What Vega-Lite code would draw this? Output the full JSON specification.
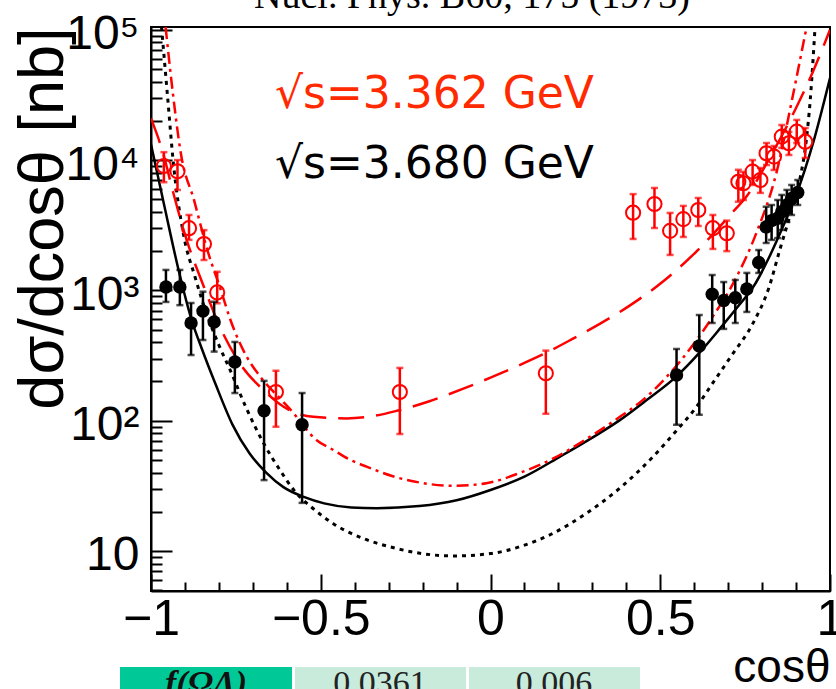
{
  "$schema": "https://vega.github.io/schema/vega-lite/v6.json",
  "width": 679,
  "height": 564,
  "autosize": {"type": "none"},
  "padding": {"left": 151, "top": 27, "right": 6, "bottom": 98},
  "background": "white",
  "config": {
    "view": {"stroke": "black", "strokeWidth": 2},
    "axis": {"domainColor": "black", "domainWidth": 2, "tickColor": "black", "tickWidth": 2, "grid": false, "labelColor": "black", "titleColor": "black"}
  },
  "datasets": {
    "curves": [
      {"c": "fit368", "x": -1.0, "y": 13183}, {"c": "fit368", "x": -0.96, "y": 4365}, {"c": "fit368", "x": -0.92, "y": 1479},
      {"c": "fit368", "x": -0.88, "y": 589}, {"c": "fit368", "x": -0.85, "y": 355}, {"c": "fit368", "x": -0.81, "y": 191},
      {"c": "fit368", "x": -0.76, "y": 93.3}, {"c": "fit368", "x": -0.71, "y": 56.2}, {"c": "fit368", "x": -0.66, "y": 39.8},
      {"c": "fit368", "x": -0.61, "y": 30.9}, {"c": "fit368", "x": -0.55, "y": 26.0}, {"c": "fit368", "x": -0.49, "y": 23.2},
      {"c": "fit368", "x": -0.41, "y": 21.6}, {"c": "fit368", "x": -0.335, "y": 21.3}, {"c": "fit368", "x": -0.21, "y": 22.1},
      {"c": "fit368", "x": -0.1, "y": 24.5}, {"c": "fit368", "x": 0.0, "y": 29.4}, {"c": "fit368", "x": 0.1, "y": 37.2},
      {"c": "fit368", "x": 0.205, "y": 53.0}, {"c": "fit368", "x": 0.3, "y": 74.1}, {"c": "fit368", "x": 0.381, "y": 101},
      {"c": "fit368", "x": 0.46, "y": 144}, {"c": "fit368", "x": 0.548, "y": 219}, {"c": "fit368", "x": 0.615, "y": 331},
      {"c": "fit368", "x": 0.68, "y": 525}, {"c": "fit368", "x": 0.73, "y": 759}, {"c": "fit368", "x": 0.775, "y": 1072},
      {"c": "fit368", "x": 0.82, "y": 1778}, {"c": "fit368", "x": 0.86, "y": 3020}, {"c": "fit368", "x": 0.9, "y": 5370},
      {"c": "fit368", "x": 0.95, "y": 13490}, {"c": "fit368", "x": 1.0, "y": 42660},

      {"c": "alt368", "x": -0.969, "y": 105000}, {"c": "alt368", "x": -0.95, "y": 28184}, {"c": "alt368", "x": -0.935, "y": 10000},
      {"c": "alt368", "x": -0.905, "y": 2754}, {"c": "alt368", "x": -0.87, "y": 1259}, {"c": "alt368", "x": -0.836, "y": 661},
      {"c": "alt368", "x": -0.8, "y": 380}, {"c": "alt368", "x": -0.767, "y": 245}, {"c": "alt368", "x": -0.72, "y": 126},
      {"c": "alt368", "x": -0.669, "y": 67.6}, {"c": "alt368", "x": -0.62, "y": 41.7}, {"c": "alt368", "x": -0.58, "y": 29.5},
      {"c": "alt368", "x": -0.52, "y": 20.9}, {"c": "alt368", "x": -0.463, "y": 16.2}, {"c": "alt368", "x": -0.365, "y": 12.2},
      {"c": "alt368", "x": -0.28, "y": 10.5}, {"c": "alt368", "x": -0.208, "y": 9.6}, {"c": "alt368", "x": -0.11, "y": 9.16},
      {"c": "alt368", "x": 0.0, "y": 9.55}, {"c": "alt368", "x": 0.087, "y": 10.8}, {"c": "alt368", "x": 0.18, "y": 13.5},
      {"c": "alt368", "x": 0.283, "y": 19.5}, {"c": "alt368", "x": 0.38, "y": 30.2}, {"c": "alt368", "x": 0.479, "y": 53.0},
      {"c": "alt368", "x": 0.55, "y": 85.1}, {"c": "alt368", "x": 0.607, "y": 128}, {"c": "alt368", "x": 0.655, "y": 195},
      {"c": "alt368", "x": 0.71, "y": 316}, {"c": "alt368", "x": 0.773, "y": 558}, {"c": "alt368", "x": 0.82, "y": 1047},
      {"c": "alt368", "x": 0.852, "y": 2042}, {"c": "alt368", "x": 0.885, "y": 3981}, {"c": "alt368", "x": 0.911, "y": 7079},
      {"c": "alt368", "x": 0.93, "y": 14125}, {"c": "alt368", "x": 0.941, "y": 27290}, {"c": "alt368", "x": 0.956, "y": 105000},

      {"c": "alt336", "x": -0.957, "y": 105000}, {"c": "alt336", "x": -0.935, "y": 31623}, {"c": "alt336", "x": -0.912, "y": 11220},
      {"c": "alt336", "x": -0.873, "y": 4898}, {"c": "alt336", "x": -0.834, "y": 2042}, {"c": "alt336", "x": -0.794, "y": 1000},
      {"c": "alt336", "x": -0.767, "y": 603}, {"c": "alt336", "x": -0.72, "y": 316}, {"c": "alt336", "x": -0.679, "y": 219},
      {"c": "alt336", "x": -0.62, "y": 148}, {"c": "alt336", "x": -0.591, "y": 123}, {"c": "alt336", "x": -0.512, "y": 70.8},
      {"c": "alt336", "x": -0.463, "y": 59.6}, {"c": "alt336", "x": -0.414, "y": 50.1}, {"c": "alt336", "x": -0.365, "y": 44.4},
      {"c": "alt336", "x": -0.29, "y": 37.6}, {"c": "alt336", "x": -0.208, "y": 33.5}, {"c": "alt336", "x": -0.11, "y": 31.6},
      {"c": "alt336", "x": -0.012, "y": 33.1}, {"c": "alt336", "x": 0.087, "y": 39.8}, {"c": "alt336", "x": 0.185, "y": 51.3},
      {"c": "alt336", "x": 0.283, "y": 72.4}, {"c": "alt336", "x": 0.381, "y": 107}, {"c": "alt336", "x": 0.45, "y": 145},
      {"c": "alt336", "x": 0.557, "y": 282}, {"c": "alt336", "x": 0.655, "y": 631}, {"c": "alt336", "x": 0.714, "y": 1122},
      {"c": "alt336", "x": 0.783, "y": 2754}, {"c": "alt336", "x": 0.842, "y": 7943}, {"c": "alt336", "x": 0.891, "y": 31623},
      {"c": "alt336", "x": 0.931, "y": 105000},

      {"c": "fit336", "x": -1.0, "y": 20893}, {"c": "fit336", "x": -0.964, "y": 11220}, {"c": "fit336", "x": -0.934, "y": 5559},
      {"c": "fit336", "x": -0.895, "y": 2438}, {"c": "fit336", "x": -0.846, "y": 1096}, {"c": "fit336", "x": -0.797, "y": 525},
      {"c": "fit336", "x": -0.738, "y": 275}, {"c": "fit336", "x": -0.669, "y": 172}, {"c": "fit336", "x": -0.591, "y": 120},
      {"c": "fit336", "x": -0.522, "y": 107}, {"c": "fit336", "x": -0.424, "y": 104}, {"c": "fit336", "x": -0.35, "y": 108},
      {"c": "fit336", "x": -0.276, "y": 119}, {"c": "fit336", "x": -0.18, "y": 141}, {"c": "fit336", "x": -0.08, "y": 176},
      {"c": "fit336", "x": 0.0, "y": 214}, {"c": "fit336", "x": 0.08, "y": 263}, {"c": "fit336", "x": 0.163, "y": 331},
      {"c": "fit336", "x": 0.24, "y": 422}, {"c": "fit336", "x": 0.323, "y": 556}, {"c": "fit336", "x": 0.411, "y": 767},
      {"c": "fit336", "x": 0.509, "y": 1175}, {"c": "fit336", "x": 0.607, "y": 1995}, {"c": "fit336", "x": 0.655, "y": 2692},
      {"c": "fit336", "x": 0.715, "y": 4027}, {"c": "fit336", "x": 0.754, "y": 5248}, {"c": "fit336", "x": 0.823, "y": 10471},
      {"c": "fit336", "x": 0.9, "y": 25119}, {"c": "fit336", "x": 0.95, "y": 47863}, {"c": "fit336", "x": 1.0, "y": 100000}
    ],
    "points": [
      {"s": "3.362", "x": -0.962, "y": 9000, "lo": 6760, "hi": 11500},
      {"s": "3.362", "x": -0.922, "y": 8200, "lo": 5900, "hi": 10000},
      {"s": "3.362", "x": -0.888, "y": 3000, "lo": 2440, "hi": 3790},
      {"s": "3.362", "x": -0.844, "y": 2270, "lo": 1710, "hi": 2900},
      {"s": "3.362", "x": -0.805, "y": 964, "lo": 796, "hi": 1390},
      {"s": "3.362", "x": -0.632, "y": 166, "lo": 90, "hi": 242},
      {"s": "3.362", "x": -0.267, "y": 166, "lo": 79, "hi": 254},
      {"s": "3.362", "x": 0.163, "y": 231, "lo": 113, "hi": 345},
      {"s": "3.362", "x": 0.42, "y": 3946, "lo": 2480, "hi": 5480},
      {"s": "3.362", "x": 0.483, "y": 4600, "lo": 3010, "hi": 6110},
      {"s": "3.362", "x": 0.529, "y": 2860, "lo": 1870, "hi": 3930},
      {"s": "3.362", "x": 0.568, "y": 3520, "lo": 2570, "hi": 4450},
      {"s": "3.362", "x": 0.612, "y": 4140, "lo": 3120, "hi": 5120},
      {"s": "3.362", "x": 0.655, "y": 3000, "lo": 2080, "hi": 3790},
      {"s": "3.362", "x": 0.696, "y": 2740, "lo": 2000, "hi": 3430},
      {"s": "3.362", "x": 0.73, "y": 6820, "lo": 4790, "hi": 8420},
      {"s": "3.362", "x": 0.745, "y": 6640, "lo": 4940, "hi": 8110},
      {"s": "3.362", "x": 0.772, "y": 8150, "lo": 6440, "hi": 10000},
      {"s": "3.362", "x": 0.795, "y": 7030, "lo": 5600, "hi": 8690},
      {"s": "3.362", "x": 0.813, "y": 11270, "lo": 9160, "hi": 13520},
      {"s": "3.362", "x": 0.835, "y": 10620, "lo": 8390, "hi": 12820},
      {"s": "3.362", "x": 0.858, "y": 15130, "lo": 12390, "hi": 18580},
      {"s": "3.362", "x": 0.879, "y": 13460, "lo": 10940, "hi": 16440},
      {"s": "3.362", "x": 0.902, "y": 16520, "lo": 13520, "hi": 20320},
      {"s": "3.362", "x": 0.927, "y": 13840, "lo": 10370, "hi": 17620},
      {"s": "3.680", "x": -0.956, "y": 1060, "lo": 815, "hi": 1435},
      {"s": "3.680", "x": -0.915, "y": 1060, "lo": 770, "hi": 1435},
      {"s": "3.680", "x": -0.882, "y": 562, "lo": 319, "hi": 800},
      {"s": "3.680", "x": -0.847, "y": 693, "lo": 416, "hi": 977},
      {"s": "3.680", "x": -0.814, "y": 571, "lo": 339, "hi": 818},
      {"s": "3.680", "x": -0.753, "y": 282, "lo": 163, "hi": 402},
      {"s": "3.680", "x": -0.667, "y": 119, "lo": 35, "hi": 202},
      {"s": "3.680", "x": -0.555, "y": 93, "lo": 23.4, "hi": 163},
      {"s": "3.680", "x": 0.548, "y": 224, "lo": 93, "hi": 355},
      {"s": "3.680", "x": 0.615, "y": 374, "lo": 111, "hi": 647},
      {"s": "3.680", "x": 0.653, "y": 933, "lo": 562, "hi": 1312},
      {"s": "3.680", "x": 0.687, "y": 835, "lo": 506, "hi": 1159},
      {"s": "3.680", "x": 0.721, "y": 879, "lo": 562, "hi": 1202},
      {"s": "3.680", "x": 0.755, "y": 1025, "lo": 683, "hi": 1361},
      {"s": "3.680", "x": 0.79, "y": 1634, "lo": 1361, "hi": 2040},
      {"s": "3.680", "x": 0.812, "y": 3060, "lo": 2310, "hi": 4385},
      {"s": "3.680", "x": 0.828, "y": 3430, "lo": 2440, "hi": 4520},
      {"s": "3.680", "x": 0.846, "y": 3573, "lo": 2520, "hi": 4940},
      {"s": "3.680", "x": 0.858, "y": 4020, "lo": 2910, "hi": 5400},
      {"s": "3.680", "x": 0.873, "y": 4520, "lo": 3350, "hi": 5900},
      {"s": "3.680", "x": 0.887, "y": 5080, "lo": 3790, "hi": 6440},
      {"s": "3.680", "x": 0.905, "y": 5630, "lo": 4520, "hi": 7030}
    ],
    "notes": [
      {"s": "3.362", "x": -0.635, "y": 25100, "text": "√s=3.362 GeV"},
      {"s": "3.680", "x": -0.635, "y": 7300, "text": "√s=3.680 GeV"}
    ],
    "ref": [
      {"x": -0.0545, "y": 146900, "text": "Nucl. Phys. B60, 175 (1973)"}
    ],
    "cells": [
      {"kind": "head", "x1": -1.0913, "x2": -0.5847, "y1": 1.288, "y2": 0.5, "tx": -0.838, "ty": 0.8, "text": "f(ΩΛ)"},
      {"kind": "val", "x1": -0.5758, "x2": -0.0722, "y1": 1.288, "y2": 0.5, "tx": -0.3255, "ty": 0.8, "text": "0.0361"},
      {"kind": "val", "x1": -0.0633, "x2": 0.4404, "y1": 1.288, "y2": 0.5, "tx": 0.187, "ty": 0.8, "text": "0.006"}
    ]
  },
  "layer": [
    {
      "data": {"name": "curves"},
      "transform": [{"filter": "datum.c == 'fit368'"}],
      "mark": {"type": "line", "clip": true, "color": "black", "strokeWidth": 2.5, "interpolate": "monotone"},
      "encoding": {
        "x": {
          "field": "x", "type": "quantitative",
          "scale": {"domain": [-1, 1], "nice": false, "zero": false},
          "axis": {
            "orient": "bottom",
            "values": [-1, -0.5, 0, 0.5, 1],
            "labelExpr": "(datum.value < 0 ? '−' : '') + format(abs(datum.value), '')",
            "tickSize": -17,
            "labelFont": "Liberation Sans",
            "labelFontSize": 50,
            "labelPadding": 20,
            "labelFlush": false,
            "labelOverlap": false,
            "labelBound": false,
            "title": "cosθ",
            "titleFont": "Liberation Sans",
            "titleFontSize": 46,
            "titleFontWeight": "normal",
            "titleAnchor": "end",
            "titleAlign": "right",
            "titleBaseline": "alphabetic",
            "titleX": 679,
            "titleY": 90
          }
        },
        "y": {
          "field": "y", "type": "quantitative",
          "scale": {"type": "log", "domain": [4.93, 105000], "nice": false},
          "axis": {
            "orient": "left",
            "values": [10, 100, 1000, 10000, 100000],
            "labelExpr": "datum.value == 10 ? '10' : datum.value == 100 ? '10²' : datum.value == 1000 ? '10³' : datum.value == 10000 ? '10⁴' : '10⁵'",
            "tickSize": -21,
            "labelFont": "Liberation Sans",
            "labelFontSize": 48,
            "labelPadding": 33,
            "labelOffset": 5,
            "labelOverlap": false,
            "labelBound": false,
            "labelFlush": false,
            "title": "dσ/dcosθ [nb]",
            "titleFont": "Liberation Sans",
            "titleFontSize": 63,
            "titleFontWeight": "normal",
            "titleAngle": -90,
            "titleAnchor": "end",
            "titleAlign": "right",
            "titleBaseline": "alphabetic",
            "titleX": -89,
            "titleY": 0
          }
        }
      }
    },
    {
      "data": {"name": "curves"},
      "transform": [{"filter": "datum.c == 'alt368'"}],
      "mark": {"type": "line", "clip": true, "color": "black", "strokeWidth": 3, "strokeDash": [4, 5], "interpolate": "monotone"},
      "encoding": {
        "x": {
          "field": "x", "type": "quantitative",
          "axis": {
            "orient": "bottom",
            "values": [-0.9, -0.8, -0.7, -0.6, -0.4, -0.3, -0.2, -0.1, 0.1, 0.2, 0.3, 0.4, 0.6, 0.7, 0.8, 0.9],
            "labels": false, "domain": false, "tickSize": -9, "title": null
          }
        },
        "y": {
          "field": "y", "type": "quantitative",
          "axis": {
            "orient": "left",
            "values": [5, 6, 7, 8, 9, 20, 30, 40, 50, 60, 70, 80, 90, 200, 300, 400, 500, 600, 700, 800, 900, 2000, 3000, 4000, 5000, 6000, 7000, 8000, 9000, 20000, 30000, 40000, 50000, 60000, 70000, 80000, 90000],
            "labels": false, "domain": false, "tickSize": -11, "title": null
          }
        }
      }
    },
    {
      "data": {"name": "cells"},
      "mark": {"type": "rect", "clip": false},
      "encoding": {
        "x": {"field": "x1", "type": "quantitative", "axis": null},
        "x2": {"field": "x2"},
        "y": {"field": "y1", "type": "quantitative", "axis": null},
        "y2": {"field": "y2"},
        "color": {"field": "kind", "type": "nominal", "scale": {"domain": ["head", "val"], "range": ["#00c896", "#c8ebdc"]}, "legend": null}
      }
    },
    {
      "data": {"name": "cells"},
      "transform": [{"filter": "datum.kind == 'head'"}],
      "mark": {"type": "text", "clip": false, "font": "Liberation Serif", "fontSize": 34, "fontWeight": "bold", "fontStyle": "italic", "align": "center", "baseline": "alphabetic", "color": "#111111"},
      "encoding": {
        "x": {"field": "tx", "type": "quantitative", "axis": null},
        "y": {"field": "ty", "type": "quantitative", "axis": null},
        "text": {"field": "text"}
      }
    },
    {
      "data": {"name": "cells"},
      "transform": [{"filter": "datum.kind == 'val'"}],
      "mark": {"type": "text", "clip": false, "font": "Liberation Serif", "fontSize": 34, "align": "center", "baseline": "alphabetic", "color": "#222222"},
      "encoding": {
        "x": {"field": "tx", "type": "quantitative", "axis": null},
        "y": {"field": "ty", "type": "quantitative", "axis": null},
        "text": {"field": "text"}
      }
    },
    {
      "data": {"name": "curves"},
      "transform": [{"filter": "datum.c == 'alt336'"}],
      "mark": {"type": "line", "clip": true, "color": "#ff0000", "strokeWidth": 2.5, "strokeDash": [12, 5, 3, 5], "interpolate": "monotone"},
      "encoding": {
        "x": {"field": "x", "type": "quantitative", "axis": null},
        "y": {"field": "y", "type": "quantitative", "axis": null}
      }
    },
    {
      "data": {"name": "curves"},
      "transform": [{"filter": "datum.c == 'fit336'"}],
      "mark": {"type": "line", "clip": true, "color": "#ff0000", "strokeWidth": 2.5, "strokeDash": [26, 12], "interpolate": "monotone"},
      "encoding": {
        "x": {"field": "x", "type": "quantitative", "axis": null},
        "y": {"field": "y", "type": "quantitative", "axis": null}
      }
    },
    {
      "data": {"name": "points"},
      "transform": [{"filter": "datum.s == '3.362'"}],
      "mark": {"type": "rule", "color": "#ff0000", "strokeWidth": 2.5},
      "encoding": {
        "x": {"field": "x", "type": "quantitative", "axis": null},
        "y": {"field": "lo", "type": "quantitative", "axis": null},
        "y2": {"field": "hi"}
      }
    },
    {
      "data": {"name": "points"},
      "transform": [{"filter": "datum.s == '3.362'"}],
      "mark": {"type": "tick", "orient": "horizontal", "color": "#ff0000", "size": 7, "thickness": 2.5},
      "encoding": {
        "x": {"field": "x", "type": "quantitative", "axis": null},
        "y": {"field": "lo", "type": "quantitative", "axis": null}
      }
    },
    {
      "data": {"name": "points"},
      "transform": [{"filter": "datum.s == '3.362'"}],
      "mark": {"type": "tick", "orient": "horizontal", "color": "#ff0000", "size": 7, "thickness": 2.5},
      "encoding": {
        "x": {"field": "x", "type": "quantitative", "axis": null},
        "y": {"field": "hi", "type": "quantitative", "axis": null}
      }
    },
    {
      "data": {"name": "points"},
      "transform": [{"filter": "datum.s == '3.362'"}],
      "mark": {"type": "point", "shape": "circle", "filled": false, "stroke": "#ff0000", "strokeWidth": 2, "size": 200, "opacity": 1},
      "encoding": {
        "x": {"field": "x", "type": "quantitative", "axis": null},
        "y": {"field": "y", "type": "quantitative", "axis": null}
      }
    },
    {
      "data": {"name": "points"},
      "transform": [{"filter": "datum.s == '3.680'"}],
      "mark": {"type": "rule", "color": "black", "strokeWidth": 2.5},
      "encoding": {
        "x": {"field": "x", "type": "quantitative", "axis": null},
        "y": {"field": "lo", "type": "quantitative", "axis": null},
        "y2": {"field": "hi"}
      }
    },
    {
      "data": {"name": "points"},
      "transform": [{"filter": "datum.s == '3.680'"}],
      "mark": {"type": "tick", "orient": "horizontal", "color": "black", "size": 7, "thickness": 2.5},
      "encoding": {
        "x": {"field": "x", "type": "quantitative", "axis": null},
        "y": {"field": "lo", "type": "quantitative", "axis": null}
      }
    },
    {
      "data": {"name": "points"},
      "transform": [{"filter": "datum.s == '3.680'"}],
      "mark": {"type": "tick", "orient": "horizontal", "color": "black", "size": 7, "thickness": 2.5},
      "encoding": {
        "x": {"field": "x", "type": "quantitative", "axis": null},
        "y": {"field": "hi", "type": "quantitative", "axis": null}
      }
    },
    {
      "data": {"name": "points"},
      "transform": [{"filter": "datum.s == '3.680'"}],
      "mark": {"type": "circle", "color": "black", "size": 180, "opacity": 1},
      "encoding": {
        "x": {"field": "x", "type": "quantitative", "axis": null},
        "y": {"field": "y", "type": "quantitative", "axis": null}
      }
    },
    {
      "data": {"name": "notes"},
      "mark": {"type": "text", "clip": false, "font": "DejaVu Sans", "fontSize": 44, "align": "left", "baseline": "alphabetic"},
      "encoding": {
        "x": {"field": "x", "type": "quantitative", "axis": null},
        "y": {"field": "y", "type": "quantitative", "axis": null},
        "text": {"field": "text"},
        "color": {"field": "s", "type": "nominal", "scale": {"domain": ["3.362", "3.680"], "range": ["#ff2a00", "#000000"]}, "legend": null}
      }
    },
    {
      "data": {"name": "ref"},
      "mark": {"type": "text", "clip": false, "font": "Liberation Serif", "fontSize": 38, "align": "center", "baseline": "alphabetic", "color": "black"},
      "encoding": {
        "x": {"field": "x", "type": "quantitative", "axis": null},
        "y": {"field": "y", "type": "quantitative", "axis": null},
        "text": {"field": "text"}
      }
    }
  ],
  "resolve": {"scale": {"color": "independent"}, "axis": {"x": "independent", "y": "independent"}}
}
